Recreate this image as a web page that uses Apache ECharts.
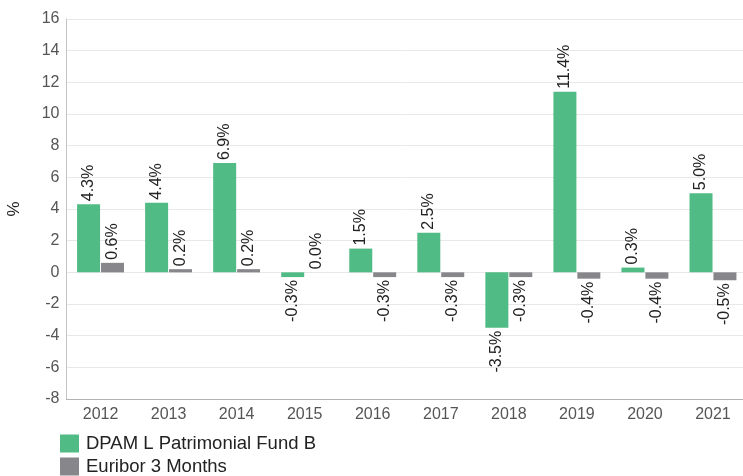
<!DOCTYPE html>
<html>
<head>
<meta charset="utf-8">
<script src="https://cdn.jsdelivr.net/npm/echarts@6/dist/echarts.min.js"></script>
<style>
  html, body { margin: 0; padding: 0; background: #fff; }
  #chart { width: 743px; height: 476px; }
</style>
</head>
<body>
<div id="chart"></div>
<script>
// 年份
var years = ["2012", "2013", "2014", "2015", "2016", "2017", "2018", "2019", "2020", "2021"];
// 基金收益 (%)
var fundValues = [4.3, 4.4, 6.9, -0.3, 1.5, 2.5, -3.5, 11.4, 0.3, 5.0];
// 3个月Euribor (%)
var euriborValues = [0.6, 0.2, 0.2, 0.0, -0.3, -0.3, -0.3, -0.4, -0.4, -0.5];
var seriesNames = ["DPAM L Patrimonial Fund B", "Euribor 3 Months"];
var yTicks = { min: -8, max: 16, step: 2 };

var font = "'Liberation Sans', Arial, sans-serif";

// 正数标签在上面, 负数标签在下面
function withLabels(values) {
  return values.map(function (v) {
    var neg = v < 0;
    return {
      value: v,
      label: {
        position: neg ? "bottom" : "top",
        align: neg ? "right" : "left"
      }
    };
  });
}

// 图例: 每行一个
function legendRow(name, top) {
  return {
    orient: "vertical",
    left: 60,
    top: top,
    padding: 0,
    itemWidth: 19,
    itemHeight: 18,
    icon: "rect",
    textStyle: { fontSize: 18.5, color: "#222", fontFamily: font, padding: [0, 0, 0, 2] },
    data: [name]
  };
}

var barLabel = {
  show: true,
  rotate: 90,
  distance: 3,
  verticalAlign: "middle",
  fontSize: 16,
  color: "#222",
  formatter: function (p) { return p.value.toFixed(1) + "%"; }
};

var chart = echarts.init(document.getElementById("chart"));
chart.setOption({
  animation: false,
  textStyle: { fontFamily: font },
  grid: { left: 66.5, right: -4, top: 19, bottom: 77, outerBoundsMode: "none", containLabel: false },
  legend: [legendRow(seriesNames[0], 434), legendRow(seriesNames[1], 457)],
  xAxis: {
    type: "category",
    data: years,
    axisLine: { onZero: false, lineStyle: { color: "#b3b3b3" } },
    axisTick: { show: false },
    axisLabel: { fontSize: 16, color: "#555", margin: 8 }
  },
  yAxis: {
    type: "value",
    min: yTicks.min,
    max: yTicks.max,
    interval: yTicks.step,
    name: "%",
    nameLocation: "middle",
    nameRotate: 90,
    nameGap: 44,
    nameTextStyle: { fontSize: 17, color: "#222" },
    axisLine: { show: true, lineStyle: { color: "#c4c4c4" } },
    axisTick: { show: false },
    axisLabel: { fontSize: 16, color: "#555", margin: 7 },
    splitLine: { lineStyle: { color: "#e8e8e8" } }
  },
  series: [
    {
      name: seriesNames[0],
      type: "bar",
      barWidth: 23,
      barGap: "4%",
      itemStyle: { color: "#50bb85" },
      label: barLabel,
      data: withLabels(fundValues)
    },
    {
      name: seriesNames[1],
      type: "bar",
      barWidth: 23,
      barGap: "4%",
      itemStyle: { color: "#87878b" },
      label: barLabel,
      data: withLabels(euriborValues)
    }
  ]
});
</script>
</body>
</html>
